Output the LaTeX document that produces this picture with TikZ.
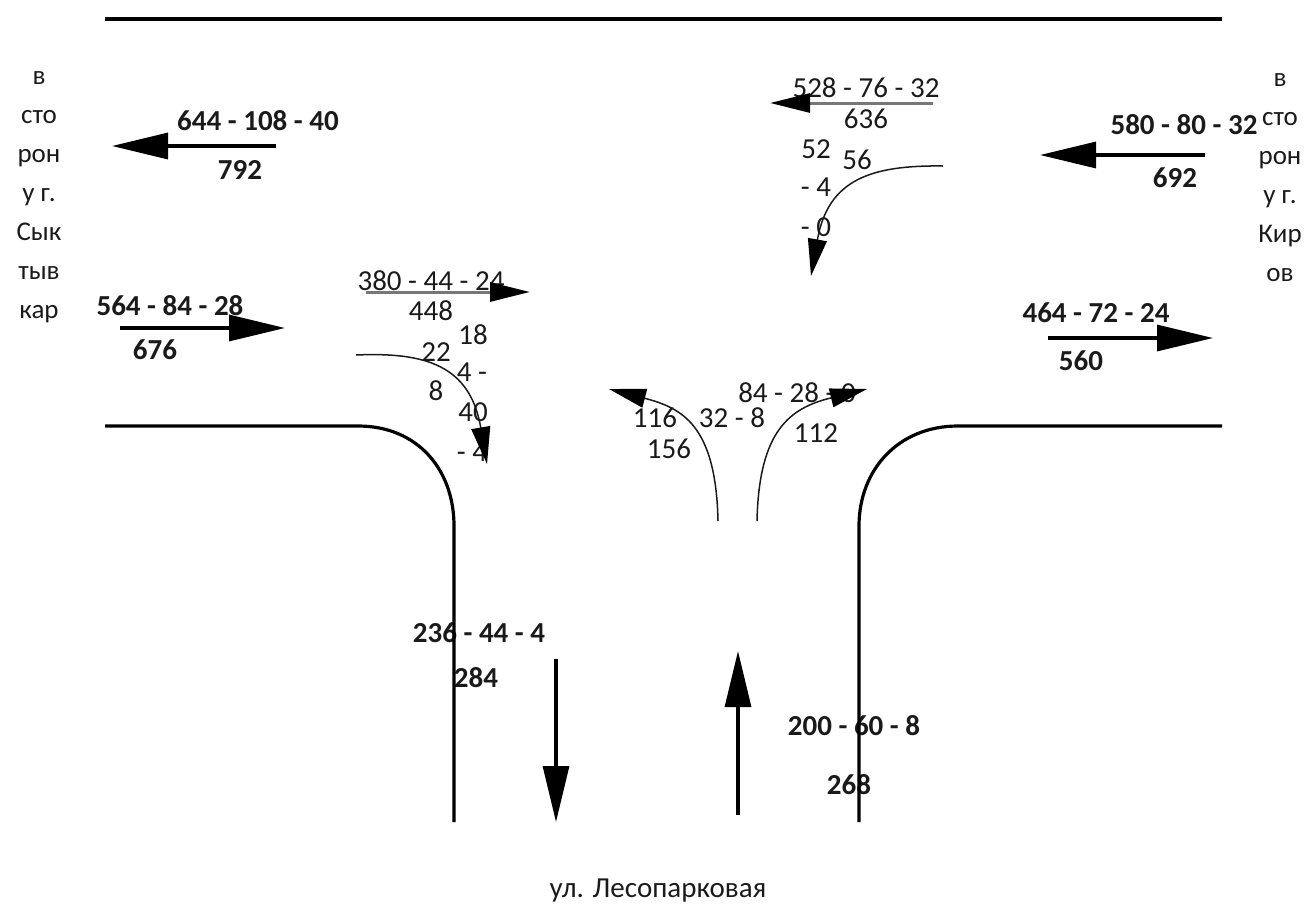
\documentclass[tikz,border=0pt]{standalone}
\usepackage{fontspec}
\setmainfont{Carlito}
\usepackage{xcolor}
\usepackage{tikz}
\usetikzlibrary{arrows.meta}
\definecolor{fg}{HTML}{1A1A1A}
\definecolor{greyLine}{HTML}{777777}
\tikzset{
  lab/.style={inner sep=0pt, text=fg, font=\fontsize{29}{29}\selectfont},
  blab/.style={lab, font=\fontsize{29}{29}\selectfont\bfseries},
  side/.style={lab, font=\fontsize{27}{28}\selectfont},
  kerb/.style={line width=3.2pt, draw=black},
  bigarrow/.style={line width=3.2pt, -{Triangle[length=56pt, width=26pt]}},
  midarrow/.style={line width=3pt, draw=greyLine, -{Triangle[length=40pt, width=19pt, color=black]}},
  turn/.style={line width=1.5pt, draw=fg, -{Triangle[length=37pt, width=19pt, color=black]}}
}
\begin{document}
\begin{tikzpicture}[x=1pt, y=-1pt]
  \useasboundingbox (0,0) rectangle (1307,903);
  % bold counts
  \node[blab] (n1) at (258,121) {644 - 108 - 40};
  \node[blab] (n1b) at (240,170) {792};
  \node[blab] (n2) at (1184,125) {580 - 80 - 32};
  \node[blab] (n2b) at (1175,178) {692};
  \node[blab] (n3) at (170,306) {564 - 84 - 28};
  \node[blab] (n3b) at (155,350) {676};
  \node[blab] (n4) at (1096,313) {464 - 72 - 24};
  \node[blab] (n4b) at (1081,361) {560};
  \node[blab] (n5) at (479,633) {236 - 44 - 4};
  \node[blab] (n5b) at (476,678) {284};
  \node[blab] (n6) at (854,726) {200 - 60 - 8};
  \node[blab] (n6b) at (849,785) {268};
  % plain counts
  \node[lab] (c1) at (866,88) {528 - 76 - 32};
  \node[lab] (c1b) at (866,119) {636};
  \node[lab] (c2) at (816,149) {52};
  \node[lab] (c2b) at (857,160) {56};
  \node[lab] (c2c) at (816,187) {- 4};
  \node[lab] (c2d) at (816,227) {- 0};
  \node[lab] (c3) at (431,281) {380 - 44 - 24};
  \node[lab] (c3b) at (431,311) {448};
  \node[lab] (c4) at (473,335) {18};
  \node[lab] (c4b) at (436,352) {22};
  \node[lab] (c4c) at (472,372) {4 -};
  \node[lab] (c4d) at (436,391) {8};
  \node[lab] (c4e) at (473,412) {40};
  \node[lab] (c4f) at (472,452) {- 4};
  \node[lab] (c5) at (655,418) {116};
  \node[lab] (c5b) at (732,418) {32 - 8};
  \node[lab] (c5c) at (669,449) {156};
  \node[lab] (c6) at (797,393) {84 - 28 - 0};
  \node[lab] (c6b) at (816,433) {112};
  % direction labels
  \node[side, align=center] (west) at (39,197) {в\\[11pt]сто\\[11pt]рон\\[11pt]у г.\\[11pt]Сык\\[11pt]тыв\\[11pt]кар};
  \node[side, align=center] (east) at (1280,178) {в\\[11pt]сто\\[11pt]рон\\[11pt]у г.\\[11pt]Кир\\[11pt]ов};
  \node[lab] (south) at (658,891) {ул. Лесопарковая};
  % road edges
  \coordinate (topA) at (105,19);
  \coordinate (topB) at (1222,19);
  \coordinate (leftA) at (105,426);
  \coordinate (leftB) at (454,822);
  \coordinate (rightA) at (1222,426);
  \coordinate (rightB) at (859,822);
  \draw[kerb] (topA) -- (topB);
  \draw[kerb] (leftA) -- (358,426) .. controls (418,426) and (454,470) .. (454,526) -- (leftB);
  \draw[kerb] (rightA) -- (958,426) .. controls (898,426) and (859,470) .. (859,526) -- (rightB);
  % straight flows
  \coordinate (a1s) at (276,146);
  \coordinate (a1e) at (112,146);
  \coordinate (a2s) at (1205,155);
  \coordinate (a2e) at (1040,155);
  \coordinate (a3s) at (120,328);
  \coordinate (a3e) at (285,328);
  \coordinate (a4s) at (1048,338);
  \coordinate (a4e) at (1213,338);
  \coordinate (a5s) at (556,659);
  \coordinate (a5e) at (556,822);
  \coordinate (a6s) at (738,815);
  \coordinate (a6e) at (738,651);
  \draw[bigarrow] (a1s) -- (a1e);
  \draw[bigarrow] (a2s) -- (a2e);
  \draw[bigarrow] (a3s) -- (a3e);
  \draw[bigarrow] (a4s) -- (a4e);
  \draw[bigarrow] (a5s) -- (a5e);
  \draw[bigarrow] (a6s) -- (a6e);
  \coordinate (m1s) at (933,103);
  \coordinate (m1e) at (770,103);
  \coordinate (m2s) at (366,292);
  \coordinate (m2e) at (530,292);
  \draw[midarrow] (m1s) -- (m1e);
  \draw[midarrow] (m2s) -- (m2e);
  % turning flows
  \coordinate (t1s) at (943,166);
  \coordinate (t1e) at (811,276);
  \coordinate (t2s) at (356,355);
  \coordinate (t2e) at (487,464);
  \coordinate (t3s) at (718,521);
  \coordinate (t3e) at (609,389);
  \coordinate (t4s) at (757,521);
  \coordinate (t4e) at (867,389);
  \draw[turn] (t1s) .. controls (870,165) and (828,180) .. (t1e);
  \draw[turn] (t2s) .. controls (425,352) and (470,365) .. (t2e);
  \draw[turn] (t3s) .. controls (716,425) and (682,408) .. (t3e);
  \draw[turn] (t4s) .. controls (759,430) and (790,408) .. (t4e);
\end{tikzpicture}
\end{document}
